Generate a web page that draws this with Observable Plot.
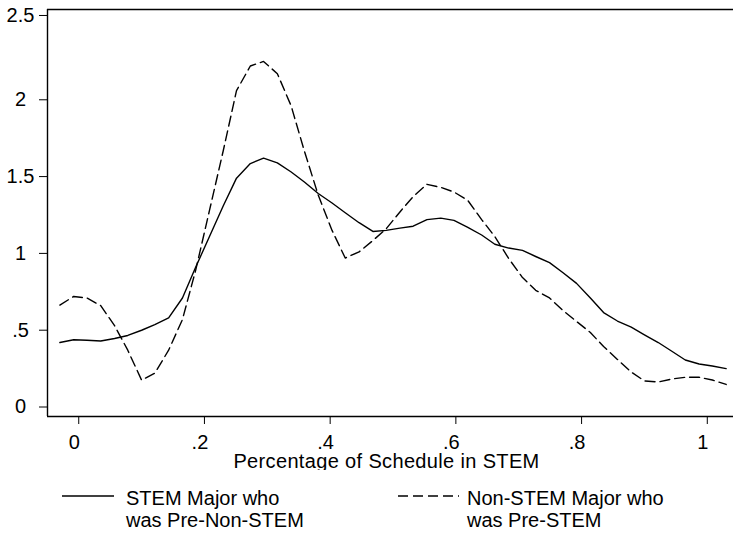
<!DOCTYPE html>
<html>
<head>
<meta charset="utf-8">
<script src="https://cdn.jsdelivr.net/npm/d3@7"></script>
<script src="https://cdn.jsdelivr.net/npm/@observablehq/plot@0.6"></script>
<style>
  html, body { margin: 0; padding: 0; background: #fff; }
  #wrap { width: 733px; font-family: "Liberation Sans", Arial, Helvetica, sans-serif; color: #000; }
  #wrap g[aria-label="x-axis label"] text { letter-spacing: 0.35px; }
  #legend { position: relative; width: 733px; height: 64px; font-size: 20px; line-height: 22px; }
  .sw { position: absolute; top: 20px; }
  .lt { position: absolute; top: 17px; white-space: nowrap; }
</style>
</head>
<body>
<div id="wrap"></div>
<script>
// Grid of evaluation points (share of schedule in STEM)
const xGrid = [-0.030, -0.008, 0.013, 0.035, 0.057, 0.078, 0.100, 0.121, 0.143, 0.165,
  0.186, 0.208, 0.230, 0.251, 0.273, 0.294, 0.316, 0.338, 0.359, 0.381,
  0.403, 0.424, 0.446, 0.468, 0.489, 0.511, 0.532, 0.554, 0.576, 0.597,
  0.619, 0.641, 0.662, 0.684, 0.706, 0.727, 0.749, 0.770, 0.792, 0.814,
  0.835, 0.857, 0.879, 0.900, 0.922, 0.943, 0.965, 0.987, 1.008, 1.030];

// STEM Major who was Pre-Non-STEM (solid)
const stemDensity = [0.41, 0.428, 0.425, 0.42, 0.436, 0.456, 0.49, 0.527, 0.571, 0.70,
  0.90, 1.10, 1.30, 1.48, 1.575, 1.61, 1.58, 1.52, 1.455, 1.38,
  1.318, 1.255, 1.19, 1.133, 1.14, 1.155, 1.167, 1.21, 1.22, 1.205,
  1.16, 1.11, 1.05, 1.025, 1.01, 0.97, 0.93, 0.866, 0.795, 0.70,
  0.605, 0.55, 0.51, 0.46, 0.41, 0.355, 0.296, 0.27, 0.257, 0.24];

// Non-STEM Major who was Pre-STEM (dashed)
const nonStemDensity = [0.654, 0.71, 0.70, 0.65, 0.52, 0.36, 0.165, 0.21, 0.36, 0.56,
  0.88, 1.27, 1.66, 2.05, 2.21, 2.24, 2.16, 1.95, 1.656, 1.37,
  1.14, 0.96, 1.0, 1.074, 1.15, 1.26, 1.36, 1.44, 1.42, 1.39,
  1.335, 1.21, 1.10, 0.957, 0.833, 0.75, 0.70, 0.62, 0.547, 0.475,
  0.384, 0.30, 0.218, 0.16, 0.153, 0.172, 0.184, 0.184, 0.166, 0.137];

const seriesNames = ["STEM Major who\nwas Pre-Non-STEM", "Non-STEM Major who\nwas Pre-STEM"];

const xTicks = [0, 0.2, 0.4, 0.6, 0.8, 1];
const xTickLabels = ["0", ".2", ".4", ".6", ".8", "1"];
const yTicks = [0, 0.5, 1, 1.5, 2];
const yTickLabels = ["0", ".5", "1", "1.5", "2"];
const yTopTick = [2.5];
const yTopTickLabel = ["2.5"];
const xTitle = "Percentage of Schedule in STEM";

const xDomain = [-0.0497, 1.0417];
const yDomain = [-0.0716, 2.578];

const solidData = xGrid.map((x, i) => ({x, y: stemDensity[i]}));
const dashedData = xGrid.map((x, i) => ({x, y: nonStemDensity[i]}));

const font = '"Liberation Sans", Arial, Helvetica, sans-serif';

const chart = Plot.plot({
  width: 733,
  height: 470,
  marginLeft: 47,
  marginRight: 0,
  marginTop: 9,
  marginBottom: 54,
  style: {fontFamily: font, fontSize: "20px", color: "#000", background: "#fff"},
  x: {domain: xDomain},
  y: {domain: yDomain},
  marks: [
    Plot.ruleX([xDomain[0]], {stroke: "#000", strokeWidth: 1.4}),
    Plot.ruleY([yDomain[0]], {stroke: "#000", strokeWidth: 1.4}),
    Plot.ruleY([yDomain[1]], {stroke: "#000", strokeWidth: 1.6}),
    Plot.axisX({ticks: xTicks, tickFormat: (d, i) => xTickLabels[i], tickSize: 8, tickPadding: 10,
      label: null, fontSize: 20, text: null}),
    Plot.axisX({ticks: xTicks, tickFormat: (d, i) => xTickLabels[i], tickSize: 0, tickPadding: 18,
      dx: -4.5, label: xTitle, labelAnchor: "center", labelArrow: "none", labelOffset: 51, fontSize: 20}),
    Plot.axisY({ticks: yTicks, tickFormat: (d, i) => yTickLabels[i], tickSize: 8, tickPadding: 19,
      textAnchor: "middle", dy: 1.5, label: null, fontSize: 20}),
    Plot.axisY({ticks: yTopTick, tickFormat: (d, i) => yTopTickLabel[i], tickSize: 8, tickPadding: 19,
      textAnchor: "middle", dy: -6, label: null, fontSize: 20}),
    Plot.line(solidData, {x: "x", y: "y", stroke: "#000", strokeWidth: 1.4}),
    Plot.line(dashedData, {x: "x", y: "y", stroke: "#000", strokeWidth: 1.4, strokeDasharray: "10,5"})
  ]
});

// nudge the axis title slightly left, keeping Plot's own transform
const lab = chart.querySelector('g[aria-label="x-axis label"]');
if (lab) lab.setAttribute("transform", ((lab.getAttribute("transform") || "") + " translate(-4,0)").trim());

const wrap = document.getElementById("wrap");
wrap.appendChild(chart);

// Legend below the chart
const legend = document.createElement("div");
legend.id = "legend";
const items = [
  {swLeft: 62, swWidth: 52, dash: null, textLeft: 126, label: seriesNames[0]},
  {swLeft: 398, swWidth: 61, dash: "10,5", textLeft: 467, label: seriesNames[1]}
];
items.forEach(it => {
  const sw = document.createElementNS("http://www.w3.org/2000/svg", "svg");
  sw.setAttribute("class", "sw");
  sw.setAttribute("width", it.swWidth);
  sw.setAttribute("height", 12);
  sw.style.left = it.swLeft + "px";
  const ln = document.createElementNS("http://www.w3.org/2000/svg", "line");
  ln.setAttribute("x1", 0); ln.setAttribute("x2", it.swWidth);
  ln.setAttribute("y1", 6); ln.setAttribute("y2", 6);
  ln.setAttribute("stroke", "#000"); ln.setAttribute("stroke-width", 1.3);
  if (it.dash) ln.setAttribute("stroke-dasharray", it.dash);
  sw.appendChild(ln);
  legend.appendChild(sw);
  const t = document.createElement("div");
  t.className = "lt";
  t.style.left = it.textLeft + "px";
  t.innerHTML = it.label.split("\n").join("<br>");
  legend.appendChild(t);
});
wrap.appendChild(legend);
</script>
</body>
</html>
